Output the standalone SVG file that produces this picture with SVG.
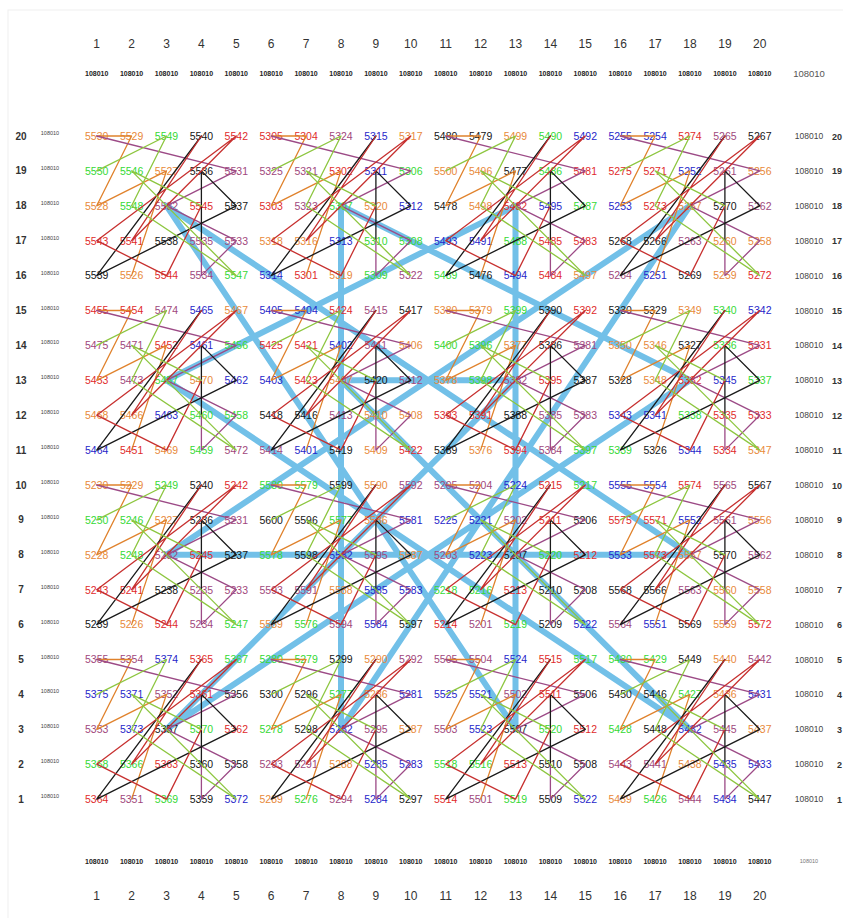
<svg xmlns="http://www.w3.org/2000/svg" xmlns:xlink="http://www.w3.org/1999/xlink" width="843" height="918" viewBox="0 0 843 918">
<style>
text{font-family:"Liberation Sans",Arial,sans-serif}
.nodes text{font-size:10.5px;text-anchor:middle}
.b{fill:#2626c9}.o{fill:#e8893a}.p{fill:#a0477c}.k{fill:#151515}.r{fill:#e02b2b}.g{fill:#35d935}
.hd{font-size:12px;fill:#333;text-anchor:middle}
.sm{font-size:7px;font-weight:bold;fill:#222;text-anchor:middle}
.ll{font-size:5.5px;fill:#444;text-anchor:middle}
.rl{font-size:8.5px;fill:#444;text-anchor:middle}
.rn{font-size:10px;font-weight:bold;fill:#333}
.rn2{font-size:9px;font-weight:bold;fill:#333;text-anchor:end}
.thin{fill:none;stroke-width:1.3;stroke-linejoin:round;stroke-linecap:round}
.lo{stroke:#e0822c}.lp{stroke:#9c4a86}.lk{stroke:#1a1a1a}.lr{stroke:#c7302f}.lg{stroke:#8dc63f}
.thick{fill:none;stroke:#72c0e8;stroke-width:6;stroke-linejoin:round;stroke-linecap:round}
</style>
<defs>
<g id="blk">
<polyline class="thin lo" points="34.9,139.6 69.8,34.9 0,69.8 34.9,0 0,0"/>
<polyline class="thin lp" points="0,0 139.6,34.9 69.8,69.8 139.6,104.7 104.7,139.6 104.7,104.7"/>
<polyline class="thin lk" points="104.7,104.7 104.7,34.9 139.6,69.8 69.8,104.7 0,139.6 104.7,0"/>
<polyline class="thin lr" points="104.7,0 34.9,104.7 139.6,0 0,104.7 69.8,139.6 104.7,69.8"/>
<polyline class="thin lg" points="104.7,69.8 34.9,34.9 139.6,139.6 34.9,69.8 69.8,0 0,34.9"/>
</g>
</defs>
<rect x="0" y="0" width="843" height="918" fill="#fff"/>
<rect x="8" y="10" width="840" height="910" fill="none" stroke="#f0f0f0" stroke-width="1"/>

<g id="headers">
<g class="hd">
<text x="96.7" y="48">1</text><text x="131.6" y="48">2</text><text x="166.5" y="48">3</text><text x="201.4" y="48">4</text><text x="236.3" y="48">5</text><text x="271.2" y="48">6</text><text x="306.1" y="48">7</text><text x="341" y="48">8</text><text x="375.9" y="48">9</text><text x="410.8" y="48">10</text><text x="445.7" y="48">11</text><text x="480.6" y="48">12</text><text x="515.5" y="48">13</text><text x="550.4" y="48">14</text><text x="585.3" y="48">15</text><text x="620.2" y="48">16</text><text x="655.1" y="48">17</text><text x="690" y="48">18</text><text x="724.9" y="48">19</text><text x="759.8" y="48">20</text>
<text x="96.7" y="900">1</text><text x="131.6" y="900">2</text><text x="166.5" y="900">3</text><text x="201.4" y="900">4</text><text x="236.3" y="900">5</text><text x="271.2" y="900">6</text><text x="306.1" y="900">7</text><text x="341" y="900">8</text><text x="375.9" y="900">9</text><text x="410.8" y="900">10</text><text x="445.7" y="900">11</text><text x="480.6" y="900">12</text><text x="515.5" y="900">13</text><text x="550.4" y="900">14</text><text x="585.3" y="900">15</text><text x="620.2" y="900">16</text><text x="655.1" y="900">17</text><text x="690" y="900">18</text><text x="724.9" y="900">19</text><text x="759.8" y="900">20</text>
</g>
<g class="sm">
<text x="96.7" y="76">108010</text><text x="131.6" y="76">108010</text><text x="166.5" y="76">108010</text><text x="201.4" y="76">108010</text><text x="236.3" y="76">108010</text><text x="271.2" y="76">108010</text><text x="306.1" y="76">108010</text><text x="341" y="76">108010</text><text x="375.9" y="76">108010</text><text x="410.8" y="76">108010</text><text x="445.7" y="76">108010</text><text x="480.6" y="76">108010</text><text x="515.5" y="76">108010</text><text x="550.4" y="76">108010</text><text x="585.3" y="76">108010</text><text x="620.2" y="76">108010</text><text x="655.1" y="76">108010</text><text x="690" y="76">108010</text><text x="724.9" y="76">108010</text><text x="759.8" y="76">108010</text>
<text x="96.7" y="864">108010</text><text x="131.6" y="864">108010</text><text x="166.5" y="864">108010</text><text x="201.4" y="864">108010</text><text x="236.3" y="864">108010</text><text x="271.2" y="864">108010</text><text x="306.1" y="864">108010</text><text x="341" y="864">108010</text><text x="375.9" y="864">108010</text><text x="410.8" y="864">108010</text><text x="445.7" y="864">108010</text><text x="480.6" y="864">108010</text><text x="515.5" y="864">108010</text><text x="550.4" y="864">108010</text><text x="585.3" y="864">108010</text><text x="620.2" y="864">108010</text><text x="655.1" y="864">108010</text><text x="690" y="864">108010</text><text x="724.9" y="864">108010</text><text x="759.8" y="864">108010</text>
</g>
<text x="809" y="77" style="font-size:9.5px;fill:#555;text-anchor:middle">108010</text>
<text x="809" y="863" style="font-size:5.5px;fill:#777;text-anchor:middle">108010</text>
<g class="rn" text-anchor="middle">
<text x="21" y="139.5">20</text><text x="21" y="174.4">19</text><text x="21" y="209.3">18</text><text x="21" y="244.2">17</text><text x="21" y="279.1">16</text><text x="21" y="314">15</text><text x="21" y="348.9">14</text><text x="21" y="383.8">13</text><text x="21" y="418.7">12</text><text x="21" y="453.6">11</text><text x="21" y="488.5">10</text><text x="21" y="523.4">9</text><text x="21" y="558.3">8</text><text x="21" y="593.2">7</text><text x="21" y="628.1">6</text><text x="21" y="663">5</text><text x="21" y="697.9">4</text><text x="21" y="732.8">3</text><text x="21" y="767.7">2</text><text x="21" y="802.6">1</text>
</g>
<g class="rn2">
<text x="842" y="139.5">20</text><text x="842" y="174.4">19</text><text x="842" y="209.3">18</text><text x="842" y="244.2">17</text><text x="842" y="279.1">16</text><text x="842" y="314">15</text><text x="842" y="348.9">14</text><text x="842" y="383.8">13</text><text x="842" y="418.7">12</text><text x="842" y="453.6">11</text><text x="842" y="488.5">10</text><text x="842" y="523.4">9</text><text x="842" y="558.3">8</text><text x="842" y="593.2">7</text><text x="842" y="628.1">6</text><text x="842" y="663">5</text><text x="842" y="697.9">4</text><text x="842" y="732.8">3</text><text x="842" y="767.7">2</text><text x="842" y="802.6">1</text>
</g>
<g class="ll">
<text x="50" y="135">108010</text><text x="50" y="169.9">108010</text><text x="50" y="204.8">108010</text><text x="50" y="239.7">108010</text><text x="50" y="274.6">108010</text><text x="50" y="309.5">108010</text><text x="50" y="344.4">108010</text><text x="50" y="379.3">108010</text><text x="50" y="414.2">108010</text><text x="50" y="449.1">108010</text><text x="50" y="484">108010</text><text x="50" y="518.9">108010</text><text x="50" y="553.8">108010</text><text x="50" y="588.7">108010</text><text x="50" y="623.6">108010</text><text x="50" y="658.5">108010</text><text x="50" y="693.4">108010</text><text x="50" y="728.3">108010</text><text x="50" y="763.2">108010</text><text x="50" y="798.1">108010</text>
</g>
<g class="rl">
<text x="809" y="139">108010</text><text x="809" y="173.9">108010</text><text x="809" y="208.8">108010</text><text x="809" y="243.7">108010</text><text x="809" y="278.6">108010</text><text x="809" y="313.5">108010</text><text x="809" y="348.4">108010</text><text x="809" y="383.3">108010</text><text x="809" y="418.2">108010</text><text x="809" y="453.1">108010</text><text x="809" y="488">108010</text><text x="809" y="522.9">108010</text><text x="809" y="557.8">108010</text><text x="809" y="592.7">108010</text><text x="809" y="627.6">108010</text><text x="809" y="662.5">108010</text><text x="809" y="697.4">108010</text><text x="809" y="732.3">108010</text><text x="809" y="767.2">108010</text><text x="809" y="802.1">108010</text>
</g>
</g>

<g id="connectors-thick">
<polyline class="thick" points="515.5,554.8 166.5,554.8 690,205.8 341,729.3 341,205.8 690,380.3 166.5,729.3 515.5,380.3 341,380.3 690,729.3 166.5,380.3 515.5,205.8 515.5,729.3 166.5,205.8 690,554.8 341,554.8"/>
</g>

<g class="nodes">
<g transform="translate(0,139.8)">
<g id="n5530"><text x="96.7" class="o">5530</text></g><g id="n5529"><text x="131.6" class="o">5529</text></g><g id="n5549"><text x="166.5" class="g">5549</text></g><g id="n5540"><text x="201.4" class="k">5540</text></g><g id="n5542"><text x="236.3" class="r">5542</text></g>
<g id="n5305"><text x="271.2" class="r">5305</text></g><g id="n5304"><text x="306.1" class="r">5304</text></g><g id="n5324"><text x="341" class="p">5324</text></g><g id="n5315"><text x="375.9" class="b">5315</text></g><g id="n5317"><text x="410.8" class="o">5317</text></g>
<g id="n5480"><text x="445.7" class="k">5480</text></g><g id="n5479"><text x="480.6" class="k">5479</text></g><g id="n5499"><text x="515.5" class="o">5499</text></g><g id="n5490"><text x="550.4" class="g">5490</text></g><g id="n5492"><text x="585.3" class="b">5492</text></g>
<g id="n5255"><text x="620.2" class="b">5255</text></g><g id="n5254"><text x="655.1" class="b">5254</text></g><g id="n5274"><text x="690" class="r">5274</text></g><g id="n5265"><text x="724.9" class="p">5265</text></g><g id="n5267"><text x="759.8" class="k">5267</text></g>
</g>
<g transform="translate(0,174.7)">
<g id="n5550"><text x="96.7" class="g">5550</text></g><g id="n5546"><text x="131.6" class="g">5546</text></g><g id="n5527"><text x="166.5" class="o">5527</text></g><g id="n5536"><text x="201.4" class="k">5536</text></g><g id="n5531"><text x="236.3" class="p">5531</text></g>
<g id="n5325"><text x="271.2" class="p">5325</text></g><g id="n5321"><text x="306.1" class="p">5321</text></g><g id="n5302"><text x="341" class="r">5302</text></g><g id="n5311"><text x="375.9" class="b">5311</text></g><g id="n5306"><text x="410.8" class="g">5306</text></g>
<g id="n5500"><text x="445.7" class="o">5500</text></g><g id="n5496"><text x="480.6" class="o">5496</text></g><g id="n5477"><text x="515.5" class="k">5477</text></g><g id="n5486"><text x="550.4" class="g">5486</text></g><g id="n5481"><text x="585.3" class="r">5481</text></g>
<g id="n5275"><text x="620.2" class="r">5275</text></g><g id="n5271"><text x="655.1" class="r">5271</text></g><g id="n5252"><text x="690" class="b">5252</text></g><g id="n5261"><text x="724.9" class="p">5261</text></g><g id="n5256"><text x="759.8" class="o">5256</text></g>
</g>
<g transform="translate(0,209.6)">
<g id="n5528"><text x="96.7" class="o">5528</text></g><g id="n5548"><text x="131.6" class="g">5548</text></g><g id="n5532"><text x="166.5" class="p">5532</text></g><g id="n5545"><text x="201.4" class="r">5545</text></g><g id="n5537"><text x="236.3" class="k">5537</text></g>
<g id="n5303"><text x="271.2" class="r">5303</text></g><g id="n5323"><text x="306.1" class="p">5323</text></g><g id="n5307"><text x="341" class="g">5307</text></g><g id="n5320"><text x="375.9" class="o">5320</text></g><g id="n5312"><text x="410.8" class="b">5312</text></g>
<g id="n5478"><text x="445.7" class="k">5478</text></g><g id="n5498"><text x="480.6" class="o">5498</text></g><g id="n5482"><text x="515.5" class="r">5482</text></g><g id="n5495"><text x="550.4" class="b">5495</text></g><g id="n5487"><text x="585.3" class="g">5487</text></g>
<g id="n5253"><text x="620.2" class="b">5253</text></g><g id="n5273"><text x="655.1" class="r">5273</text></g><g id="n5257"><text x="690" class="o">5257</text></g><g id="n5270"><text x="724.9" class="k">5270</text></g><g id="n5262"><text x="759.8" class="p">5262</text></g>
</g>
<g transform="translate(0,244.5)">
<g id="n5543"><text x="96.7" class="r">5543</text></g><g id="n5541"><text x="131.6" class="r">5541</text></g><g id="n5538"><text x="166.5" class="k">5538</text></g><g id="n5535"><text x="201.4" class="p">5535</text></g><g id="n5533"><text x="236.3" class="p">5533</text></g>
<g id="n5318"><text x="271.2" class="o">5318</text></g><g id="n5316"><text x="306.1" class="o">5316</text></g><g id="n5313"><text x="341" class="b">5313</text></g><g id="n5310"><text x="375.9" class="g">5310</text></g><g id="n5308"><text x="410.8" class="g">5308</text></g>
<g id="n5493"><text x="445.7" class="b">5493</text></g><g id="n5491"><text x="480.6" class="b">5491</text></g><g id="n5488"><text x="515.5" class="g">5488</text></g><g id="n5485"><text x="550.4" class="r">5485</text></g><g id="n5483"><text x="585.3" class="r">5483</text></g>
<g id="n5268"><text x="620.2" class="k">5268</text></g><g id="n5266"><text x="655.1" class="k">5266</text></g><g id="n5263"><text x="690" class="p">5263</text></g><g id="n5260"><text x="724.9" class="o">5260</text></g><g id="n5258"><text x="759.8" class="o">5258</text></g>
</g>
<g transform="translate(0,279.4)">
<g id="n5539"><text x="96.7" class="k">5539</text></g><g id="n5526"><text x="131.6" class="o">5526</text></g><g id="n5544"><text x="166.5" class="r">5544</text></g><g id="n5534"><text x="201.4" class="p">5534</text></g><g id="n5547"><text x="236.3" class="g">5547</text></g>
<g id="n5314"><text x="271.2" class="b">5314</text></g><g id="n5301"><text x="306.1" class="r">5301</text></g><g id="n5319"><text x="341" class="o">5319</text></g><g id="n5309"><text x="375.9" class="g">5309</text></g><g id="n5322"><text x="410.8" class="p">5322</text></g>
<g id="n5489"><text x="445.7" class="g">5489</text></g><g id="n5476"><text x="480.6" class="k">5476</text></g><g id="n5494"><text x="515.5" class="b">5494</text></g><g id="n5484"><text x="550.4" class="r">5484</text></g><g id="n5497"><text x="585.3" class="o">5497</text></g>
<g id="n5264"><text x="620.2" class="p">5264</text></g><g id="n5251"><text x="655.1" class="b">5251</text></g><g id="n5269"><text x="690" class="k">5269</text></g><g id="n5259"><text x="724.9" class="o">5259</text></g><g id="n5272"><text x="759.8" class="r">5272</text></g>
</g>
<g transform="translate(0,314.3)">
<g id="n5455"><text x="96.7" class="r">5455</text></g><g id="n5454"><text x="131.6" class="r">5454</text></g><g id="n5474"><text x="166.5" class="p">5474</text></g><g id="n5465"><text x="201.4" class="b">5465</text></g><g id="n5467"><text x="236.3" class="o">5467</text></g>
<g id="n5405"><text x="271.2" class="b">5405</text></g><g id="n5404"><text x="306.1" class="b">5404</text></g><g id="n5424"><text x="341" class="r">5424</text></g><g id="n5415"><text x="375.9" class="p">5415</text></g><g id="n5417"><text x="410.8" class="k">5417</text></g>
<g id="n5380"><text x="445.7" class="o">5380</text></g><g id="n5379"><text x="480.6" class="o">5379</text></g><g id="n5399"><text x="515.5" class="g">5399</text></g><g id="n5390"><text x="550.4" class="k">5390</text></g><g id="n5392"><text x="585.3" class="r">5392</text></g>
<g id="n5330"><text x="620.2" class="k">5330</text></g><g id="n5329"><text x="655.1" class="k">5329</text></g><g id="n5349"><text x="690" class="o">5349</text></g><g id="n5340"><text x="724.9" class="g">5340</text></g><g id="n5342"><text x="759.8" class="b">5342</text></g>
</g>
<g transform="translate(0,349.2)">
<g id="n5475"><text x="96.7" class="p">5475</text></g><g id="n5471"><text x="131.6" class="p">5471</text></g><g id="n5452"><text x="166.5" class="r">5452</text></g><g id="n5461"><text x="201.4" class="b">5461</text></g><g id="n5456"><text x="236.3" class="g">5456</text></g>
<g id="n5425"><text x="271.2" class="r">5425</text></g><g id="n5421"><text x="306.1" class="r">5421</text></g><g id="n5402"><text x="341" class="b">5402</text></g><g id="n5411"><text x="375.9" class="p">5411</text></g><g id="n5406"><text x="410.8" class="o">5406</text></g>
<g id="n5400"><text x="445.7" class="g">5400</text></g><g id="n5396"><text x="480.6" class="g">5396</text></g><g id="n5377"><text x="515.5" class="o">5377</text></g><g id="n5386"><text x="550.4" class="k">5386</text></g><g id="n5381"><text x="585.3" class="p">5381</text></g>
<g id="n5350"><text x="620.2" class="o">5350</text></g><g id="n5346"><text x="655.1" class="o">5346</text></g><g id="n5327"><text x="690" class="k">5327</text></g><g id="n5336"><text x="724.9" class="g">5336</text></g><g id="n5331"><text x="759.8" class="r">5331</text></g>
</g>
<g transform="translate(0,384.1)">
<g id="n5453"><text x="96.7" class="r">5453</text></g><g id="n5473"><text x="131.6" class="p">5473</text></g><g id="n5457"><text x="166.5" class="g">5457</text></g><g id="n5470"><text x="201.4" class="o">5470</text></g><g id="n5462"><text x="236.3" class="b">5462</text></g>
<g id="n5403"><text x="271.2" class="b">5403</text></g><g id="n5423"><text x="306.1" class="r">5423</text></g><g id="n5407"><text x="341" class="o">5407</text></g><g id="n5420"><text x="375.9" class="k">5420</text></g><g id="n5412"><text x="410.8" class="p">5412</text></g>
<g id="n5378"><text x="445.7" class="o">5378</text></g><g id="n5398"><text x="480.6" class="g">5398</text></g><g id="n5382"><text x="515.5" class="p">5382</text></g><g id="n5395"><text x="550.4" class="r">5395</text></g><g id="n5387"><text x="585.3" class="k">5387</text></g>
<g id="n5328"><text x="620.2" class="k">5328</text></g><g id="n5348"><text x="655.1" class="o">5348</text></g><g id="n5332"><text x="690" class="r">5332</text></g><g id="n5345"><text x="724.9" class="b">5345</text></g><g id="n5337"><text x="759.8" class="g">5337</text></g>
</g>
<g transform="translate(0,419)">
<g id="n5468"><text x="96.7" class="o">5468</text></g><g id="n5466"><text x="131.6" class="o">5466</text></g><g id="n5463"><text x="166.5" class="b">5463</text></g><g id="n5460"><text x="201.4" class="g">5460</text></g><g id="n5458"><text x="236.3" class="g">5458</text></g>
<g id="n5418"><text x="271.2" class="k">5418</text></g><g id="n5416"><text x="306.1" class="k">5416</text></g><g id="n5413"><text x="341" class="p">5413</text></g><g id="n5410"><text x="375.9" class="o">5410</text></g><g id="n5408"><text x="410.8" class="o">5408</text></g>
<g id="n5393"><text x="445.7" class="r">5393</text></g><g id="n5391"><text x="480.6" class="r">5391</text></g><g id="n5388"><text x="515.5" class="k">5388</text></g><g id="n5385"><text x="550.4" class="p">5385</text></g><g id="n5383"><text x="585.3" class="p">5383</text></g>
<g id="n5343"><text x="620.2" class="b">5343</text></g><g id="n5341"><text x="655.1" class="b">5341</text></g><g id="n5338"><text x="690" class="g">5338</text></g><g id="n5335"><text x="724.9" class="r">5335</text></g><g id="n5333"><text x="759.8" class="r">5333</text></g>
</g>
<g transform="translate(0,453.9)">
<g id="n5464"><text x="96.7" class="b">5464</text></g><g id="n5451"><text x="131.6" class="r">5451</text></g><g id="n5469"><text x="166.5" class="o">5469</text></g><g id="n5459"><text x="201.4" class="g">5459</text></g><g id="n5472"><text x="236.3" class="p">5472</text></g>
<g id="n5414"><text x="271.2" class="p">5414</text></g><g id="n5401"><text x="306.1" class="b">5401</text></g><g id="n5419"><text x="341" class="k">5419</text></g><g id="n5409"><text x="375.9" class="o">5409</text></g><g id="n5422"><text x="410.8" class="r">5422</text></g>
<g id="n5389"><text x="445.7" class="k">5389</text></g><g id="n5376"><text x="480.6" class="o">5376</text></g><g id="n5394"><text x="515.5" class="r">5394</text></g><g id="n5384"><text x="550.4" class="p">5384</text></g><g id="n5397"><text x="585.3" class="g">5397</text></g>
<g id="n5339"><text x="620.2" class="g">5339</text></g><g id="n5326"><text x="655.1" class="k">5326</text></g><g id="n5344"><text x="690" class="b">5344</text></g><g id="n5334"><text x="724.9" class="r">5334</text></g><g id="n5347"><text x="759.8" class="o">5347</text></g>
</g>
<g transform="translate(0,488.8)">
<g id="n5230"><text x="96.7" class="o">5230</text></g><g id="n5229"><text x="131.6" class="o">5229</text></g><g id="n5249"><text x="166.5" class="g">5249</text></g><g id="n5240"><text x="201.4" class="k">5240</text></g><g id="n5242"><text x="236.3" class="r">5242</text></g>
<g id="n5580"><text x="271.2" class="g">5580</text></g><g id="n5579"><text x="306.1" class="g">5579</text></g><g id="n5599"><text x="341" class="k">5599</text></g><g id="n5590"><text x="375.9" class="o">5590</text></g><g id="n5592"><text x="410.8" class="p">5592</text></g>
<g id="n5205"><text x="445.7" class="p">5205</text></g><g id="n5204"><text x="480.6" class="p">5204</text></g><g id="n5224"><text x="515.5" class="b">5224</text></g><g id="n5215"><text x="550.4" class="r">5215</text></g><g id="n5217"><text x="585.3" class="g">5217</text></g>
<g id="n5555"><text x="620.2" class="b">5555</text></g><g id="n5554"><text x="655.1" class="b">5554</text></g><g id="n5574"><text x="690" class="r">5574</text></g><g id="n5565"><text x="724.9" class="p">5565</text></g><g id="n5567"><text x="759.8" class="k">5567</text></g>
</g>
<g transform="translate(0,523.7)">
<g id="n5250"><text x="96.7" class="g">5250</text></g><g id="n5246"><text x="131.6" class="g">5246</text></g><g id="n5227"><text x="166.5" class="o">5227</text></g><g id="n5236"><text x="201.4" class="k">5236</text></g><g id="n5231"><text x="236.3" class="p">5231</text></g>
<g id="n5600"><text x="271.2" class="k">5600</text></g><g id="n5596"><text x="306.1" class="k">5596</text></g><g id="n5577"><text x="341" class="g">5577</text></g><g id="n5586"><text x="375.9" class="o">5586</text></g><g id="n5581"><text x="410.8" class="b">5581</text></g>
<g id="n5225"><text x="445.7" class="b">5225</text></g><g id="n5221"><text x="480.6" class="b">5221</text></g><g id="n5202"><text x="515.5" class="p">5202</text></g><g id="n5211"><text x="550.4" class="r">5211</text></g><g id="n5206"><text x="585.3" class="k">5206</text></g>
<g id="n5575"><text x="620.2" class="r">5575</text></g><g id="n5571"><text x="655.1" class="r">5571</text></g><g id="n5552"><text x="690" class="b">5552</text></g><g id="n5561"><text x="724.9" class="p">5561</text></g><g id="n5556"><text x="759.8" class="o">5556</text></g>
</g>
<g transform="translate(0,558.6)">
<g id="n5228"><text x="96.7" class="o">5228</text></g><g id="n5248"><text x="131.6" class="g">5248</text></g><g id="n5232"><text x="166.5" class="p">5232</text></g><g id="n5245"><text x="201.4" class="r">5245</text></g><g id="n5237"><text x="236.3" class="k">5237</text></g>
<g id="n5578"><text x="271.2" class="g">5578</text></g><g id="n5598"><text x="306.1" class="k">5598</text></g><g id="n5582"><text x="341" class="b">5582</text></g><g id="n5595"><text x="375.9" class="p">5595</text></g><g id="n5587"><text x="410.8" class="o">5587</text></g>
<g id="n5203"><text x="445.7" class="p">5203</text></g><g id="n5223"><text x="480.6" class="b">5223</text></g><g id="n5207"><text x="515.5" class="k">5207</text></g><g id="n5220"><text x="550.4" class="g">5220</text></g><g id="n5212"><text x="585.3" class="r">5212</text></g>
<g id="n5553"><text x="620.2" class="b">5553</text></g><g id="n5573"><text x="655.1" class="r">5573</text></g><g id="n5557"><text x="690" class="o">5557</text></g><g id="n5570"><text x="724.9" class="k">5570</text></g><g id="n5562"><text x="759.8" class="p">5562</text></g>
</g>
<g transform="translate(0,593.5)">
<g id="n5243"><text x="96.7" class="r">5243</text></g><g id="n5241"><text x="131.6" class="r">5241</text></g><g id="n5238"><text x="166.5" class="k">5238</text></g><g id="n5235"><text x="201.4" class="p">5235</text></g><g id="n5233"><text x="236.3" class="p">5233</text></g>
<g id="n5593"><text x="271.2" class="p">5593</text></g><g id="n5591"><text x="306.1" class="p">5591</text></g><g id="n5588"><text x="341" class="o">5588</text></g><g id="n5585"><text x="375.9" class="b">5585</text></g><g id="n5583"><text x="410.8" class="b">5583</text></g>
<g id="n5218"><text x="445.7" class="g">5218</text></g><g id="n5216"><text x="480.6" class="g">5216</text></g><g id="n5213"><text x="515.5" class="r">5213</text></g><g id="n5210"><text x="550.4" class="k">5210</text></g><g id="n5208"><text x="585.3" class="k">5208</text></g>
<g id="n5568"><text x="620.2" class="k">5568</text></g><g id="n5566"><text x="655.1" class="k">5566</text></g><g id="n5563"><text x="690" class="p">5563</text></g><g id="n5560"><text x="724.9" class="o">5560</text></g><g id="n5558"><text x="759.8" class="o">5558</text></g>
</g>
<g transform="translate(0,628.4)">
<g id="n5239"><text x="96.7" class="k">5239</text></g><g id="n5226"><text x="131.6" class="o">5226</text></g><g id="n5244"><text x="166.5" class="r">5244</text></g><g id="n5234"><text x="201.4" class="p">5234</text></g><g id="n5247"><text x="236.3" class="g">5247</text></g>
<g id="n5589"><text x="271.2" class="o">5589</text></g><g id="n5576"><text x="306.1" class="g">5576</text></g><g id="n5594"><text x="341" class="p">5594</text></g><g id="n5584"><text x="375.9" class="b">5584</text></g><g id="n5597"><text x="410.8" class="k">5597</text></g>
<g id="n5214"><text x="445.7" class="r">5214</text></g><g id="n5201"><text x="480.6" class="p">5201</text></g><g id="n5219"><text x="515.5" class="g">5219</text></g><g id="n5209"><text x="550.4" class="k">5209</text></g><g id="n5222"><text x="585.3" class="b">5222</text></g>
<g id="n5564"><text x="620.2" class="p">5564</text></g><g id="n5551"><text x="655.1" class="b">5551</text></g><g id="n5569"><text x="690" class="k">5569</text></g><g id="n5559"><text x="724.9" class="o">5559</text></g><g id="n5572"><text x="759.8" class="r">5572</text></g>
</g>
<g transform="translate(0,663.3)">
<g id="n5355"><text x="96.7" class="p">5355</text></g><g id="n5354"><text x="131.6" class="p">5354</text></g><g id="n5374"><text x="166.5" class="b">5374</text></g><g id="n5365"><text x="201.4" class="r">5365</text></g><g id="n5367"><text x="236.3" class="g">5367</text></g>
<g id="n5280"><text x="271.2" class="g">5280</text></g><g id="n5279"><text x="306.1" class="g">5279</text></g><g id="n5299"><text x="341" class="k">5299</text></g><g id="n5290"><text x="375.9" class="o">5290</text></g><g id="n5292"><text x="410.8" class="p">5292</text></g>
<g id="n5505"><text x="445.7" class="p">5505</text></g><g id="n5504"><text x="480.6" class="p">5504</text></g><g id="n5524"><text x="515.5" class="b">5524</text></g><g id="n5515"><text x="550.4" class="r">5515</text></g><g id="n5517"><text x="585.3" class="g">5517</text></g>
<g id="n5430"><text x="620.2" class="g">5430</text></g><g id="n5429"><text x="655.1" class="g">5429</text></g><g id="n5449"><text x="690" class="k">5449</text></g><g id="n5440"><text x="724.9" class="o">5440</text></g><g id="n5442"><text x="759.8" class="p">5442</text></g>
</g>
<g transform="translate(0,698.2)">
<g id="n5375"><text x="96.7" class="b">5375</text></g><g id="n5371"><text x="131.6" class="b">5371</text></g><g id="n5352"><text x="166.5" class="p">5352</text></g><g id="n5361"><text x="201.4" class="r">5361</text></g><g id="n5356"><text x="236.3" class="k">5356</text></g>
<g id="n5300"><text x="271.2" class="k">5300</text></g><g id="n5296"><text x="306.1" class="k">5296</text></g><g id="n5277"><text x="341" class="g">5277</text></g><g id="n5286"><text x="375.9" class="o">5286</text></g><g id="n5281"><text x="410.8" class="b">5281</text></g>
<g id="n5525"><text x="445.7" class="b">5525</text></g><g id="n5521"><text x="480.6" class="b">5521</text></g><g id="n5502"><text x="515.5" class="p">5502</text></g><g id="n5511"><text x="550.4" class="r">5511</text></g><g id="n5506"><text x="585.3" class="k">5506</text></g>
<g id="n5450"><text x="620.2" class="k">5450</text></g><g id="n5446"><text x="655.1" class="k">5446</text></g><g id="n5427"><text x="690" class="g">5427</text></g><g id="n5436"><text x="724.9" class="o">5436</text></g><g id="n5431"><text x="759.8" class="b">5431</text></g>
</g>
<g transform="translate(0,733.1)">
<g id="n5353"><text x="96.7" class="p">5353</text></g><g id="n5373"><text x="131.6" class="b">5373</text></g><g id="n5357"><text x="166.5" class="k">5357</text></g><g id="n5370"><text x="201.4" class="g">5370</text></g><g id="n5362"><text x="236.3" class="r">5362</text></g>
<g id="n5278"><text x="271.2" class="g">5278</text></g><g id="n5298"><text x="306.1" class="k">5298</text></g><g id="n5282"><text x="341" class="b">5282</text></g><g id="n5295"><text x="375.9" class="p">5295</text></g><g id="n5287"><text x="410.8" class="o">5287</text></g>
<g id="n5503"><text x="445.7" class="p">5503</text></g><g id="n5523"><text x="480.6" class="b">5523</text></g><g id="n5507"><text x="515.5" class="k">5507</text></g><g id="n5520"><text x="550.4" class="g">5520</text></g><g id="n5512"><text x="585.3" class="r">5512</text></g>
<g id="n5428"><text x="620.2" class="g">5428</text></g><g id="n5448"><text x="655.1" class="k">5448</text></g><g id="n5432"><text x="690" class="b">5432</text></g><g id="n5445"><text x="724.9" class="p">5445</text></g><g id="n5437"><text x="759.8" class="o">5437</text></g>
</g>
<g transform="translate(0,768)">
<g id="n5368"><text x="96.7" class="g">5368</text></g><g id="n5366"><text x="131.6" class="g">5366</text></g><g id="n5363"><text x="166.5" class="r">5363</text></g><g id="n5360"><text x="201.4" class="k">5360</text></g><g id="n5358"><text x="236.3" class="k">5358</text></g>
<g id="n5293"><text x="271.2" class="p">5293</text></g><g id="n5291"><text x="306.1" class="p">5291</text></g><g id="n5288"><text x="341" class="o">5288</text></g><g id="n5285"><text x="375.9" class="b">5285</text></g><g id="n5283"><text x="410.8" class="b">5283</text></g>
<g id="n5518"><text x="445.7" class="g">5518</text></g><g id="n5516"><text x="480.6" class="g">5516</text></g><g id="n5513"><text x="515.5" class="r">5513</text></g><g id="n5510"><text x="550.4" class="k">5510</text></g><g id="n5508"><text x="585.3" class="k">5508</text></g>
<g id="n5443"><text x="620.2" class="p">5443</text></g><g id="n5441"><text x="655.1" class="p">5441</text></g><g id="n5438"><text x="690" class="o">5438</text></g><g id="n5435"><text x="724.9" class="b">5435</text></g><g id="n5433"><text x="759.8" class="b">5433</text></g>
</g>
<g transform="translate(0,802.9)">
<g id="n5364"><text x="96.7" class="r">5364</text></g><g id="n5351"><text x="131.6" class="p">5351</text></g><g id="n5369"><text x="166.5" class="g">5369</text></g><g id="n5359"><text x="201.4" class="k">5359</text></g><g id="n5372"><text x="236.3" class="b">5372</text></g>
<g id="n5289"><text x="271.2" class="o">5289</text></g><g id="n5276"><text x="306.1" class="g">5276</text></g><g id="n5294"><text x="341" class="p">5294</text></g><g id="n5284"><text x="375.9" class="b">5284</text></g><g id="n5297"><text x="410.8" class="k">5297</text></g>
<g id="n5514"><text x="445.7" class="r">5514</text></g><g id="n5501"><text x="480.6" class="p">5501</text></g><g id="n5519"><text x="515.5" class="g">5519</text></g><g id="n5509"><text x="550.4" class="k">5509</text></g><g id="n5522"><text x="585.3" class="b">5522</text></g>
<g id="n5439"><text x="620.2" class="o">5439</text></g><g id="n5426"><text x="655.1" class="g">5426</text></g><g id="n5444"><text x="690" class="p">5444</text></g><g id="n5434"><text x="724.9" class="b">5434</text></g><g id="n5447"><text x="759.8" class="k">5447</text></g>
</g>
</g>

<g id="connectors">
<use href="#blk" xlink:href="#blk" x="96.7" y="136"/>
<use href="#blk" xlink:href="#blk" x="271.2" y="136"/>
<use href="#blk" xlink:href="#blk" x="445.7" y="136"/>
<use href="#blk" xlink:href="#blk" x="620.2" y="136"/>
<use href="#blk" xlink:href="#blk" x="96.7" y="310.5"/>
<use href="#blk" xlink:href="#blk" x="271.2" y="310.5"/>
<use href="#blk" xlink:href="#blk" x="445.7" y="310.5"/>
<use href="#blk" xlink:href="#blk" x="620.2" y="310.5"/>
<use href="#blk" xlink:href="#blk" x="96.7" y="485"/>
<use href="#blk" xlink:href="#blk" x="271.2" y="485"/>
<use href="#blk" xlink:href="#blk" x="445.7" y="485"/>
<use href="#blk" xlink:href="#blk" x="620.2" y="485"/>
<use href="#blk" xlink:href="#blk" x="96.7" y="659.5"/>
<use href="#blk" xlink:href="#blk" x="271.2" y="659.5"/>
<use href="#blk" xlink:href="#blk" x="445.7" y="659.5"/>
<use href="#blk" xlink:href="#blk" x="620.2" y="659.5"/>
</g>
</svg>
